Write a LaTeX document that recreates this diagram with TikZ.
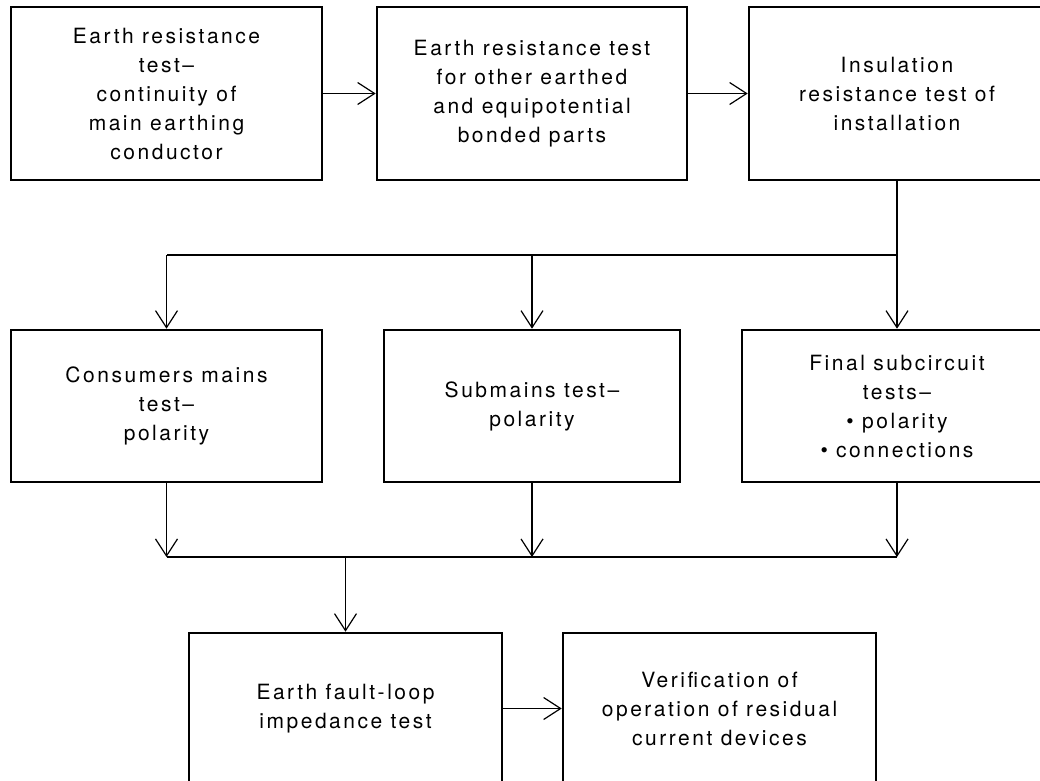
\documentclass[tikz,border=0pt]{standalone}
\usepackage{fontspec}
\setmainfont{TeX Gyre Heros}[LetterSpace=12]
\usetikzlibrary{arrows.meta}
\begin{document}
\begin{tikzpicture}[x=1pt,y=-1pt,
  box/.style={draw, line width=2.6pt, rectangle, align=center, inner sep=0pt,
    font=\fontsize{21}{29}\selectfont, minimum height=#1},
  box/.default=173pt,
  conn/.style={line width=1.2pt, -{Straight Barb[length=17pt,width=22pt,line width=1.2pt]}},
  plain/.style={line width=1.2pt}]
\clip (0,0) rectangle (1040,780);
\useasboundingbox (0,0) rectangle (1040,780);
\node[box, minimum width=311pt] (b1) at (166.5,93.5) {Earth resistance\\test–\\continuity of\\main earthing\\conductor};
\node[box, minimum width=310pt] (b2) at (532,93.5) {Earth resistance test\\for other earthed\\and equipotential\\bonded parts};
\node[box, minimum width=296pt] (b3) at (897,93.5) {Insulation\\resistance test of\\installation};
\node[box=152pt, minimum width=311pt] (b4) at (166.5,406) {Consumers mains\\test–\\polarity};
\node[box=152pt, minimum width=296pt] (b5) at (532,406) {Submains test–\\polarity};
\node[box=152pt, minimum width=310pt] (b6) at (897,406) {Final subcircuit\\tests–\\• polarity\\• connections};
\node[box=151pt, minimum width=313pt] (b7) at (345.5,708.5) {Earth fault-loop\\impedance test};
\node[box=151pt, minimum width=313pt] (b8) at (719.5,708.5) {Verification of\\operation of residual\\current devices};
\coordinate (busA) at (0,255);
\coordinate (busB) at (0,557);
\draw[conn] (b1.east) -- (b2.west);
\draw[conn] (b2.east) -- (b3.west);
\draw[conn] (b7.east) -- (b8.west);
\draw[conn] (b3.south) -- (b6.north);
\draw[plain] (b6.north |- busA) -- (b4.north |- busA);
\draw[conn] (b4.north |- busA) -- (b4.north);
\draw[conn] (b5.north |- busA) -- (b5.north);
\draw[conn] (b4.south) -- (b4.south |- busB);
\draw[conn] (b5.south) -- (b5.south |- busB);
\draw[conn] (b6.south) -- (b6.south |- busB);
\draw[plain] (b4.south |- busB) -- (b6.south |- busB);
\draw[conn] (b7.north |- busB) -- (b7.north);
\end{tikzpicture}
\end{document}
